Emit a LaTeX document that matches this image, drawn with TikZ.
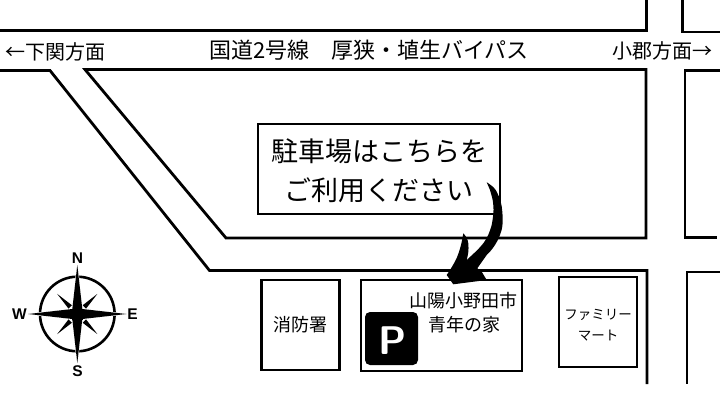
\documentclass[tikz,border=0pt]{standalone}
\usepackage{fontspec}
\setmainfont{Noto Sans CJK JP}
\newfontfamily\compassfont{Liberation Sans}
\tikzset{
  road/.style={line width=2.8pt,line join=miter},
  bldg/.style={draw=black,line width=2.8pt,fill=white},
  lbl/.style={inner sep=0pt,align=center,text=black},
  compassletter/.style={inner sep=0pt,font=\compassfont\bfseries\fontsize{15.5}{15.5}\selectfont},
  fsA/.style={font=\fontsize{20}{24}\selectfont},
  fsR/.style={font=\fontsize{22}{24}\selectfont},
  fsB/.style={font=\fontsize{27}{38.5}\selectfont},
  fsC/.style={font=\fontsize{18}{29}\selectfont},
  fsD/.style={font=\fontsize{13.5}{21.5}\selectfont},
}
\begin{document}
\begin{tikzpicture}[x=1pt,y=-1pt]
\useasboundingbox (0,0) rectangle (720,415);
\fill[white] (0,0) rectangle (720,415);
% roads
\draw[road] (0,30.5) -- (646.5,30.5) -- (646.5,0);
\draw[road] (682.5,0) -- (682.5,32) -- (720,32);
\draw[road] (0,70.5) -- (50,70.5) -- (209.5,270.5) -- (647,270.5) -- (647,384);
\draw[road] (85,69.5) -- (646,69.5) -- (646,238) -- (226,238) -- cycle;
\draw[road] (720,70.5) -- (685,70.5) -- (685,237.5) -- (717,237.5);
\draw[road] (720,272) -- (687,272) -- (687,384);
% buildings
\node[bldg,lbl,fsC,minimum width=78pt,minimum height=90pt,anchor=center] (fire) at (300.5,325) {消防署};
\node[bldg,lbl,minimum width=161pt,minimum height=91pt] (youth) at (441.5,325.5) {};
\node[bldg,lbl,minimum width=78pt,minimum height=90pt] (mart) at (598,322) {};
\node[lbl,fsD] (marttext) at (598,325) {ファミリー\\マート};
\node[bldg,lbl,minimum width=242pt,minimum height=90pt] (sign) at (379,169) {};
\node[lbl,fsB] (signtext) at (379,171) {駐車場はこちらを\\ご利用ください};
% parking
\node[fill=black,rounded corners=5pt,minimum size=53pt,inner sep=0pt] (pbox) at (391.5,338.5) {};
\node[lbl,text=white,font=\sffamily\bfseries\fontsize{40}{40}\selectfont] (pmark) at (393,340.5) {P};
\node[lbl,fsC] (youthA) at (463,300.5) {山陽小野田市};
\node[lbl,fsC] (youthB) at (464,325) {青年の家};
% road labels
\node[lbl,fsA] (west) at (55.5,52) {←下関方面};
\node[lbl,fsA] (east) at (662,50.5) {小郡方面→};
\node[lbl,fsR] (route) at (369,50) {国道2号線\hspace{22pt}厚狭・埴生バイパス};
% arrow
\fill[black] (486.7,182.3)
  .. controls (491,185) and (495,188) .. (496.7,191.7)
  .. controls (500,198) and (502,205) .. (502.3,211.7)
  .. controls (503,220) and (503,228) .. (500,235)
  .. controls (497,243) and (492,250) .. (486.7,255)
  -- (477.3,268.3) -- (481.7,271.7) -- (486.7,280) -- (453.3,284.3) -- (446.7,275)
  .. controls (450,270) and (454,264) .. (456.7,258)
  .. controls (460,250) and (462,242) .. (463.3,233.3)
  .. controls (466,236) and (468,240) .. (468.3,243.3)
  .. controls (469,250) and (468,255) .. (466.7,260)
  .. controls (472,255) and (478,250) .. (483.3,243.3)
  .. controls (488,237) and (490,231) .. (491.7,225)
  .. controls (493,218) and (494,211) .. (493.3,205)
  .. controls (493,199) and (491,194) .. (490,190) -- cycle;
% compass
\coordinate (cc) at (77.3,314);
\draw[line width=2.6pt] (cc) circle[radius=37.3];
\begin{scope}[shift={(cc)}]
  \foreach \a in {45,135,225,315}{
    \begin{scope}[rotate=\a]
      \fill[black] (28.5,0) -- (10,-2.4) -- (10,2.4) -- cycle;
    \end{scope}}
  \foreach \a in {0,90,180,270}{
    \begin{scope}[rotate=\a]
      \fill[black,draw=white,line width=1pt] (49,0) -- (5,-5) -- (0,0) -- (5,5) -- cycle;
    \end{scope}}
  \fill[black] (-5.5,-5.5) rectangle (5.5,5.5);
  \foreach \a in {0,90,180,270}{
    \begin{scope}[rotate=\a]
      \fill[black] (49,0) -- (5,-5) -- (0,0) -- (5,5) -- cycle;
    \end{scope}}
\end{scope}
\node[compassletter] (cn) at (77.5,258) {N};
\node[compassletter] (cs) at (77.5,371.5) {S};
\node[compassletter] (cw) at (19.5,314.5) {W};
\node[compassletter] (ce) at (132.5,314.5) {E};
\end{tikzpicture}
\end{document}
